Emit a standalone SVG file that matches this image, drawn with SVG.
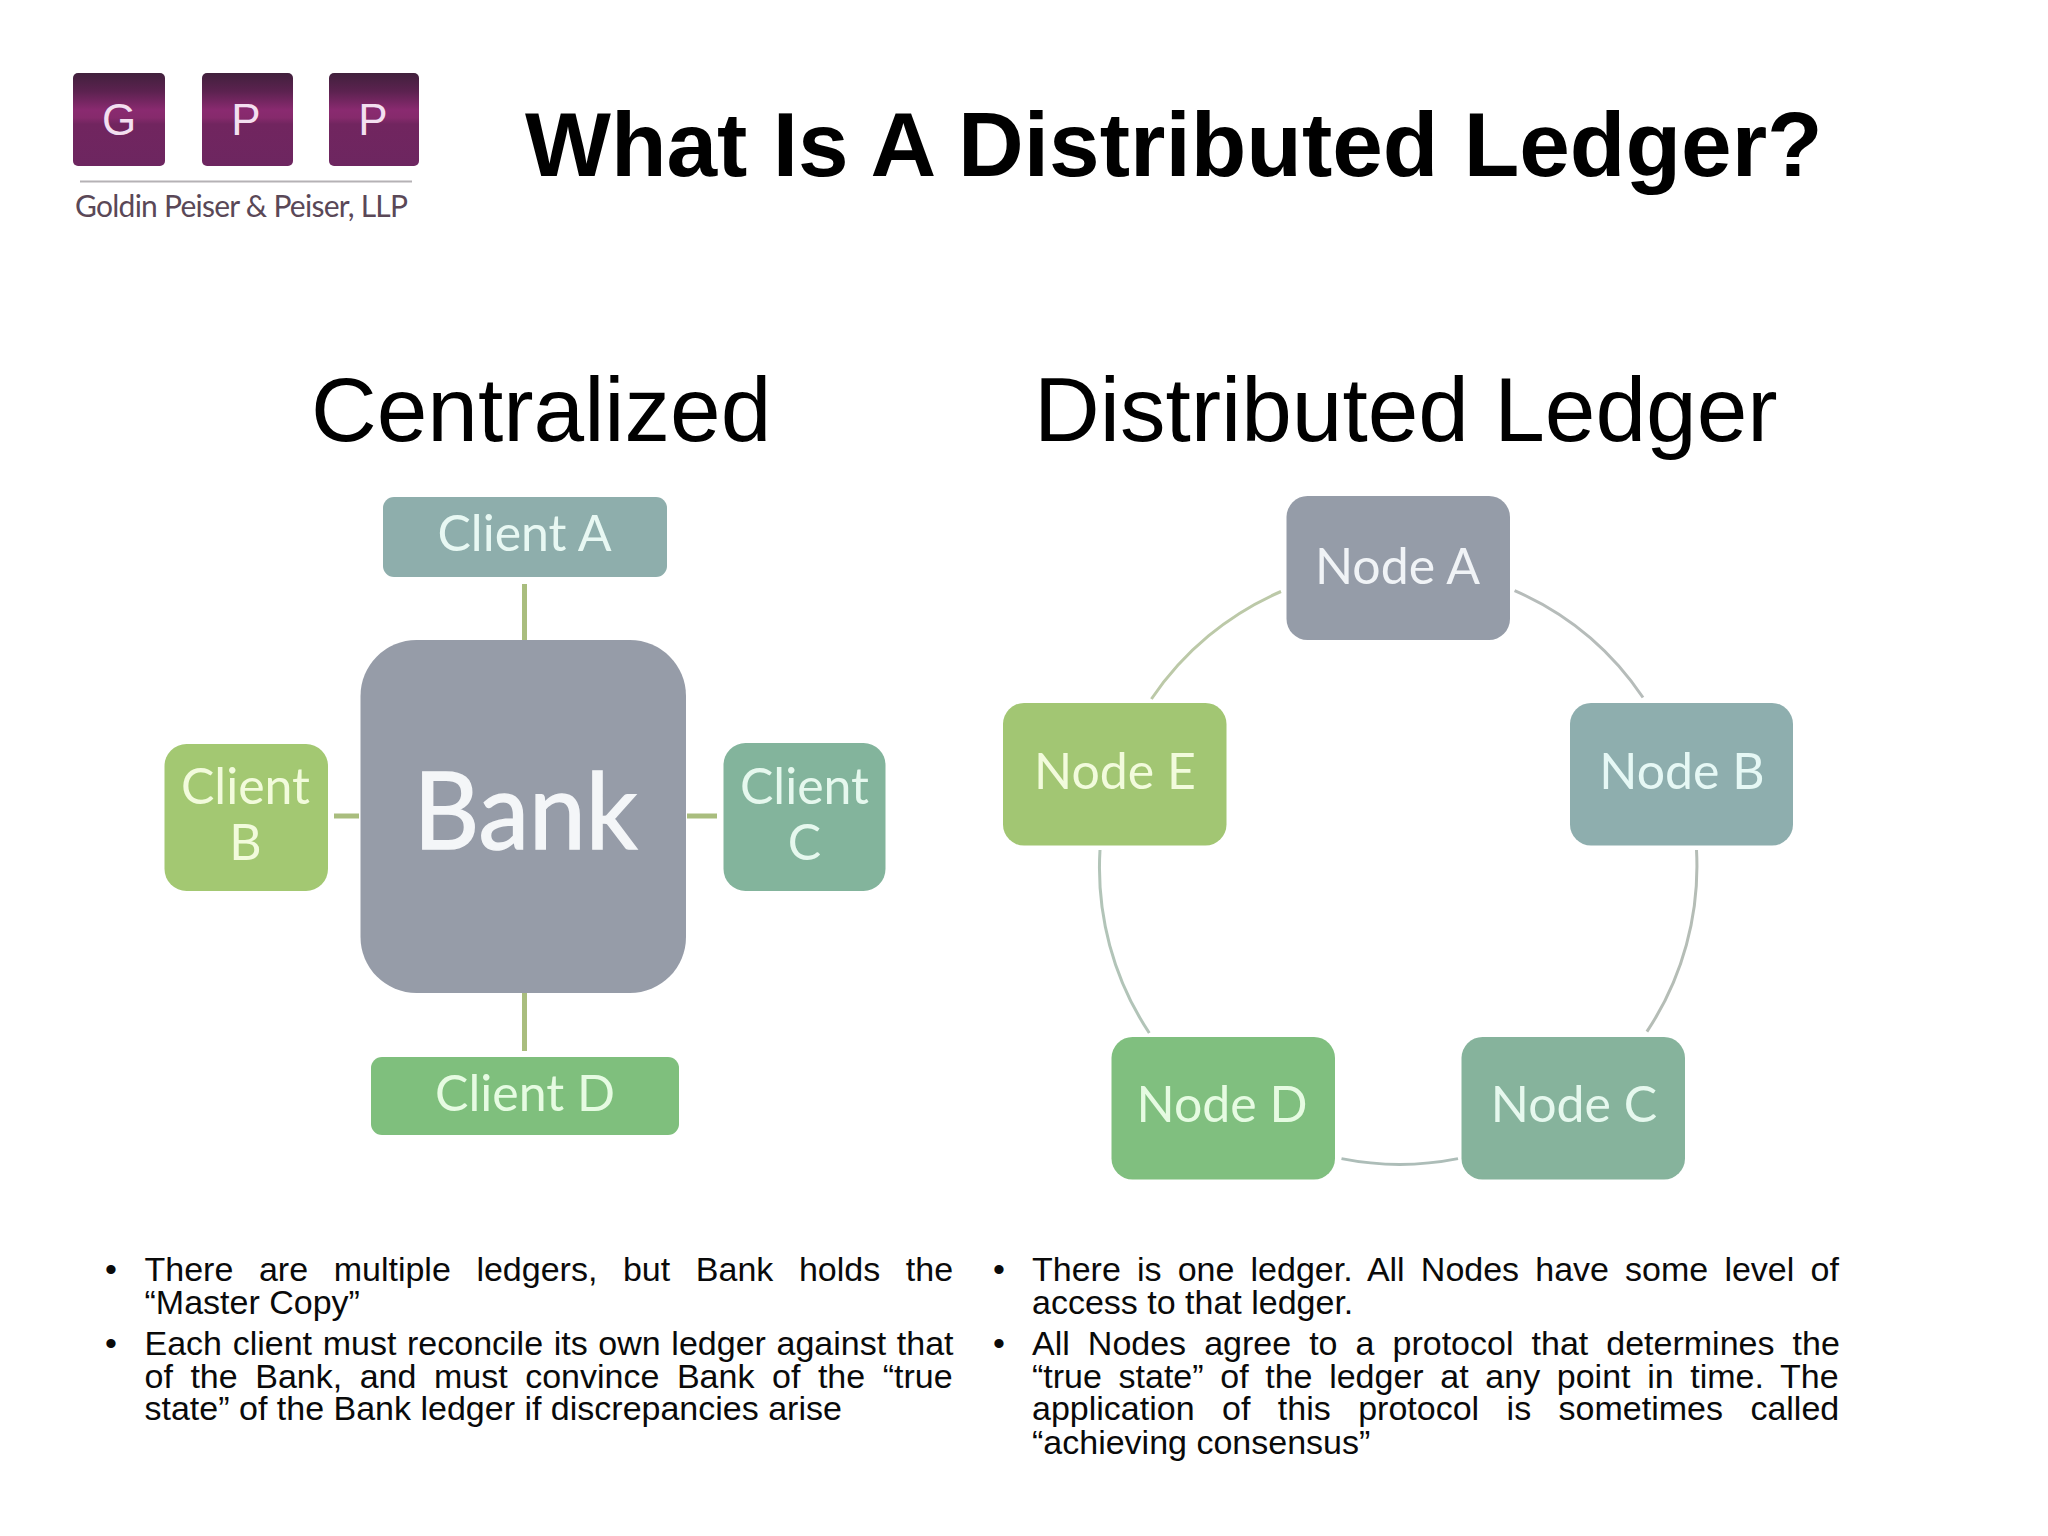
<svg xmlns="http://www.w3.org/2000/svg" width="2048" height="1536" viewBox="0 0 2048 1536">
<style>
.sans{font-family:"Liberation Sans",Arial,sans-serif}
.title{font-size:91px;font-weight:700;fill:#000}
.head{font-size:91px;fill:#000}
.body{font-size:34px;fill:#0a0a0a}
.lab{font-family:Lato,"Noto Sans",sans-serif;font-size:50px;text-anchor:middle}
.mono{font-family:"Liberation Sans",Arial,sans-serif;font-size:44px;fill:#f3dff0;text-anchor:middle}
.spoke{stroke:#a9bd7e;stroke-width:5;fill:none}
.arc{stroke-width:3;fill:none}
</style>
<defs>
<linearGradient id="plum" x1="0" y1="0" x2="0" y2="1">
<stop offset="0" stop-color="#41203c"/>
<stop offset="0.2" stop-color="#5c2250"/>
<stop offset="0.4" stop-color="#8a2a70"/>
<stop offset="0.48" stop-color="#862a6c"/>
<stop offset="0.55" stop-color="#71255f"/>
<stop offset="1" stop-color="#6d2660"/>
</linearGradient>
</defs>
<rect width="2048" height="1536" fill="#fff"/>
<g id="logo">
<rect x="73" y="73" width="92" height="93" rx="5" fill="url(#plum)"/>
<text class="mono" x="119" y="135">G</text>
<rect x="202" y="73" width="91" height="93" rx="5" fill="url(#plum)"/>
<text class="mono" x="246" y="135">P</text>
<rect x="329" y="73" width="90" height="93" rx="5" fill="url(#plum)"/>
<text class="mono" x="373" y="135">P</text>
<line x1="80" y1="181.5" x2="412" y2="181.5" stroke="#b5b2b5" stroke-width="2"/>
<text x="75" y="217" font-family="Lato,'Noto Sans',sans-serif" font-size="30" fill="#5a4857" textLength="333">Goldin Peiser &amp; Peiser, LLP</text>
</g>
<text id="title" class="sans title" x="525" y="176">What Is A Distributed Ledger?</text>
<text id="head-centralized" class="sans head" x="311" y="441">Centralized</text>
<text id="head-distributed" class="sans head" x="1034" y="441">Distributed Ledger</text>
<g id="connectors">
<line class="spoke" x1="524.500" y1="584" x2="524.500" y2="640"/>
<line class="spoke" x1="524.500" y1="992" x2="524.500" y2="1051"/>
<line class="spoke" x1="334" y1="816" x2="359" y2="816"/>
<line class="spoke" x1="687" y1="816" x2="717" y2="816"/>
<path class="arc" stroke="#b6bcba" d="M1514.6 590.6A298.500 298.500 0 0 1 1643 697.5"/>
<path class="arc" stroke="#b5bdb6" d="M1696.500 850A298.500 298.500 0 0 1 1646.9 1031.6"/>
<path class="arc" stroke="#adbdb8" d="M1458 1158.600A298.500 298.500 0 0 1 1341.500 1158.600"/>
<path class="arc" stroke="#b2c4b8" d="M1149.300 1033A298.500 298.500 0 0 1 1100 850"/>
<path class="arc" stroke="#bcc9a8" d="M1151.400 699A298.500 298.500 0 0 1 1281 591.5"/>
</g>
<g id="client-a"><rect x="383" y="497" width="284" height="80" rx="11" fill="#8eaeac"/><text class="lab" x="524.500" y="551" fill="#e8f8f3">Client A</text></g>
<g id="bank"><rect x="360.500" y="640" width="325.500" height="353" rx="56" fill="#969ca8"/><text class="lab" x="525.500" y="849" fill="#f4f6f8" stroke="#f4f6f8" stroke-width="1.5" style="font-size:106px" textLength="224" lengthAdjust="spacingAndGlyphs">Bank</text></g>
<g id="client-b"><rect x="164.500" y="744" width="163.500" height="147" rx="22" fill="#a3c872"/><text class="lab" x="245.500" y="804" fill="#f2fbdc">Client</text><text class="lab" x="245.500" y="860" fill="#f2fbdc">B</text></g>
<g id="client-c"><rect x="723.500" y="743" width="162" height="148" rx="22" fill="#83b49c"/><text class="lab" x="804.500" y="804" fill="#e6f8ee">Client</text><text class="lab" x="804.500" y="860" fill="#e6f8ee">C</text></g>
<g id="client-d"><rect x="371" y="1057" width="308" height="78" rx="11" fill="#7fbf7d"/><text class="lab" x="525" y="1111" fill="#e6fbe2">Client D</text></g>
<g id="node-a"><rect x="1286.500" y="496" width="223.500" height="144" rx="21" fill="#959ca8"/><text class="lab" x="1397.500" y="584" fill="#f0f3f6">Node A</text></g>
<g id="node-b"><rect x="1570" y="703" width="223" height="142.500" rx="21" fill="#8eaeae"/><text class="lab" x="1682" y="789" fill="#e6f8f5">Node B</text></g>
<g id="node-c"><rect x="1461.500" y="1037" width="223.500" height="142.500" rx="21" fill="#86b39c"/><text class="lab" x="1574" y="1122" fill="#e6f8ee">Node C</text></g>
<g id="node-d"><rect x="1111.500" y="1037" width="223.500" height="142.500" rx="21" fill="#80bf7f"/><text class="lab" x="1222" y="1122" fill="#e6fbe2">Node D</text></g>
<g id="node-e"><rect x="1003" y="703" width="223.500" height="142.500" rx="21" fill="#a2c673"/><text class="lab" x="1115" y="789" fill="#f2fbdc">Node E</text></g>
<g id="text-left" class="sans body">
<text x="105" y="1281">•</text>
<text x="144.500" y="1281" word-spacing="16.15">There are multiple ledgers, but Bank holds the</text>
<text x="144.500" y="1314">“Master Copy”</text>
<text x="105" y="1355">•</text>
<text x="144.500" y="1355" word-spacing="1.2">Each client must reconcile its own ledger against that</text>
<text x="144.500" y="1388" word-spacing="8.1">of the Bank, and must convince Bank of the “true</text>
<text x="144.500" y="1420">state” of the Bank ledger if discrepancies arise</text>
</g>
<g id="text-right" class="sans body">
<text x="993" y="1281">•</text>
<text x="1032" y="1281" word-spacing="6.7">There is one ledger. All Nodes have some level of</text>
<text x="1032" y="1314">access to that ledger.</text>
<text x="993" y="1355">•</text>
<text x="1032" y="1355" word-spacing="8.6">All Nodes agree to a protocol that determines the</text>
<text x="1032" y="1388" word-spacing="7.2">“true state” of the ledger at any point in time. The</text>
<text x="1032" y="1420" word-spacing="18">application of this protocol is sometimes called</text>
<text x="1032" y="1454">“achieving consensus”</text>
</g>
</svg>
